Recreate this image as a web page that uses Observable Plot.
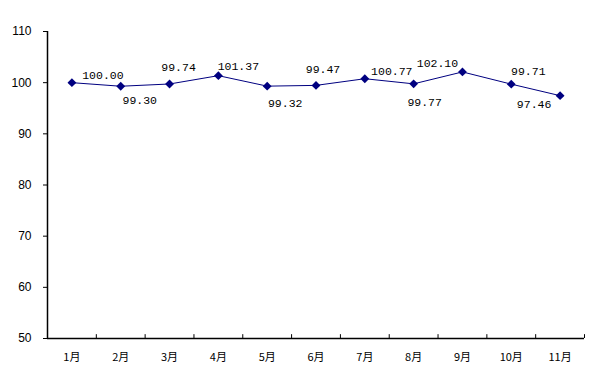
<!DOCTYPE html>
<html>
<head>
<meta charset="utf-8">
<script src="https://cdn.jsdelivr.net/npm/d3@7"></script>
<script src="https://cdn.jsdelivr.net/npm/@observablehq/plot@0.6"></script>
<style>
  html, body { margin: 0; padding: 0; background: #fff; }
  svg { display: block; }
</style>
</head>
<body>
<div id="chart"></div>
<script>
const months = ["1月","2月","3月","4月","5月","6月","7月","8月","9月","10月","11月"];
const values = [100.00, 99.30, 99.74, 101.37, 99.32, 99.47, 100.77, 99.77, 102.10, 99.71, 97.46];
const yTicks = [50, 60, 70, 80, 90, 100, 110];
// label placement (pixel offsets from each point), as in the reference
const labelDx = [31, 19, 9, 20, 18, 7, 27, 11, -25, 17, -26];
const labelDy = [-7, 14, -17, -9, 17, -16, -7, 18, -9, -13, 9];

const data = months.map((m, i) => ({idx: i + 1, month: m, value: values[i]}));
const bounds = d3.range(0, months.length + 1).map(i => i + 0.5);

const labelMarks = data.map((d, i) => Plot.text([d], {
  x: "idx", y: "value", text: d => d.value.toFixed(2),
  dx: labelDx[i], dy: labelDy[i],
  fontFamily: "Liberation Mono, monospace", fontSize: 11.5, fill: "#000"
}));

const chart = Plot.plot({
  width: 609,
  height: 379,
  marginLeft: 47,
  marginTop: 31,
  marginBottom: 41,
  marginRight: 25,
  style: {background: "#fff", color: "#000"},
  x: {type: "linear", domain: [0.5, months.length + 0.5], axis: null, label: null},
  y: {domain: [50, 110], axis: null, label: null},
  marks: [
    Plot.axisY(yTicks, {
      tickSize: 4, tickPadding: 12, fontSize: 12, label: null,
      fontFamily: "Liberation Sans, Arial, sans-serif", stroke: "#000", strokeWidth: 1
    }),
    Plot.axisX(data.map(d => d.idx), {
      tickSize: 0, tickPadding: 15, tickFormat: i => months[i - 1], fontSize: 11, label: null,
      fontFamily: "Noto Sans CJK SC, sans-serif"
    }),
    Plot.ruleX(bounds.slice(1), {x: d => d, y1: 50, y2: 50.75, stroke: "#000", strokeWidth: 1}),
    Plot.ruleY([50], {stroke: "#000", strokeWidth: 1.5}),
    Plot.ruleX([0.5], {stroke: "#000", strokeWidth: 1.5}),
    Plot.line(data, {x: "idx", y: "value", stroke: "#000080", strokeWidth: 1}),
    Plot.dot(data, {x: "idx", y: "value", symbol: "diamond2", r: 4, fill: "#000080", stroke: "none"}),
    ...labelMarks
  ]
});
document.getElementById("chart").appendChild(chart);
</script>
</body>
</html>
